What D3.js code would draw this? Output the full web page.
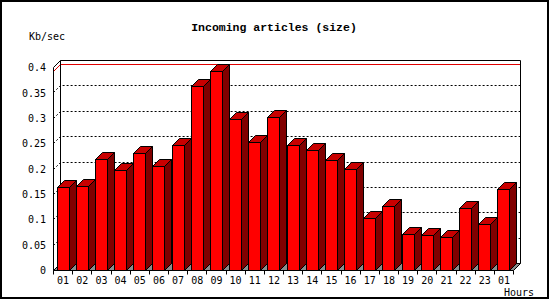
<!DOCTYPE html>
<html>
<head>
<meta charset="utf-8">
<script src="https://cdn.jsdelivr.net/npm/d3@7"></script>
<style>
  body { margin: 0; background: #fff; }
  svg { display: block; }
  text { font-family: "DejaVu Sans Mono", monospace; font-size: 10px; fill: #000; }
</style>
</head>
<body>
<script>
var hours = ['01', '02', '03', '04', '05', '06', '07', '08', '09', '10', '11', '12',
             '13', '14', '15', '16', '17', '18', '19', '20', '21', '22', '23', '01'];
var kbPerSec = [0.163, 0.165, 0.218, 0.198, 0.230, 0.205, 0.246, 0.362, 0.393, 0.297, 0.252, 0.301,
                0.246, 0.236, 0.216, 0.200, 0.102, 0.126, 0.070, 0.068, 0.066, 0.122, 0.090, 0.159];
var yTicks = [0, 0.05, 0.1, 0.15, 0.2, 0.25, 0.3, 0.35, 0.4];

var WIDTH = 550;
var HEIGHT = 300;
var DX = 7;   // depth of the 3d walls and bars
var DY = -7;

var svg = d3.select('body').append('svg')
  .attr('width', WIDTH)
  .attr('height', HEIGHT);

svg.append('rect')
  .attr('x', 1).attr('y', 1)
  .attr('width', 547).attr('height', 297)
  .style('fill', '#fff')
  .style('stroke', '#000')
  .style('stroke-width', 2);

var x = d3.scaleBand()
  .domain(d3.range(hours.length))
  .range([53, 513])
  .paddingInner(0.38)
  .paddingOuter(0.19);

var y = d3.scaleLinear()
  .domain([0, 0.4])
  .range([270, 67]);

var left = x.range()[0], right = x.range()[1];
var step = x.step();
var bw = Math.round(x.bandwidth());
var b = Math.round(y(0)) + 0.5;
var t = Math.round(y(0.4)) + 0.5;

// a line over the left wall and along the back wall
function wallLine(v) {
  var yy = Math.round(y(v)) + 0.5;
  return 'M' + (left + 0.5) + ',' + yy +
    'L' + (left + DX + 0.5) + ',' + (yy + DY) +
    'L' + (right + DX + 0.5) + ',' + (yy + DY);
}

// grid
svg.selectAll('path.grid')
  .data(yTicks.filter(function (d) { return d > 0 && d < 0.4; }))
  .enter().append('path')
    .attr('class', 'grid')
    .attr('d', wallLine)
    .style('fill', 'none')
    .style('stroke', '#000')
    .style('stroke-dasharray', '2,2');

// max line
svg.append('path')
  .attr('d', wallLine(d3.max(kbPerSec)))
  .style('fill', 'none')
  .style('stroke', '#e00000');

// walls frame
svg.append('path')
  .attr('d', wallLine(0.4) +
    'M' + (left + DX + 0.5) + ',' + (t + DY) + 'L' + (left + DX + 0.5) + ',' + (b + DY) +
    'M' + (right + DX + 0.5) + ',' + (t + DY) + 'L' + (right + DX + 0.5) + ',' + (b + DY))
  .style('fill', 'none')
  .style('stroke', '#000');

// floor
svg.append('path')
  .attr('d', 'M' + (left + 0.5) + ',' + b + 'L' + (right + 0.5) + ',' + b +
    'L' + (right + DX + 0.5) + ',' + (b + DY) + 'L' + (left + DX + 0.5) + ',' + (b + DY) + 'Z')
  .style('fill', '#8c8c8c')
  .style('stroke', '#000');

// front axis line
svg.append('path')
  .attr('d', 'M' + (left + 0.5) + ',' + b + 'L' + (left + 0.5) + ',' + t)
  .style('stroke', '#000');

// bars
var bar = svg.selectAll('g.bar')
  .data(kbPerSec)
  .enter().append('g')
    .attr('class', 'bar');

function bx(i) { return Math.round(x(i)) + 0.5; }
function by(d) { return Math.round(y(d)) + 0.5; }

bar.append('path')
  .attr('d', function (d, i) {
    var x0 = bx(i) + bw, yy = by(d);
    return 'M' + x0 + ',' + b + 'L' + x0 + ',' + yy + 'L' + (x0 + DX) + ',' + (yy + DY) +
      'L' + (x0 + DX) + ',' + (b + DY) + 'Z';
  })
  .style('fill', '#800000')
  .style('stroke', '#000');

bar.append('path')
  .attr('d', function (d, i) {
    var x0 = bx(i), x1 = bx(i) + bw, yy = by(d);
    return 'M' + x0 + ',' + yy + 'L' + x1 + ',' + yy + 'L' + (x1 + DX) + ',' + (yy + DY) +
      'L' + (x0 + DX) + ',' + (yy + DY) + 'Z';
  })
  .style('fill', '#c80000')
  .style('stroke', '#000');

bar.append('rect')
  .attr('x', function (d, i) { return bx(i); })
  .attr('y', function (d) { return by(d); })
  .attr('width', bw)
  .attr('height', function (d) { return b - by(d); })
  .style('fill', '#ff0000')
  .style('stroke', '#000');

// x axis: ticks at category borders, labels in the middle
svg.selectAll('line.xtick')
  .data(d3.range(hours.length + 1))
  .enter().append('line')
    .attr('class', 'xtick')
    .attr('x1', function (i) { return Math.round(left + i * step) + 0.5; })
    .attr('x2', function (i) { return Math.round(left + i * step) + 0.5; })
    .attr('y1', b)
    .attr('y2', b + 4)
    .style('stroke', '#000');

var xAxis = svg.append('g')
  .attr('transform', 'translate(0,' + b + ')')
  .call(d3.axisBottom(x)
    .tickSize(0)
    .tickFormat(function (i) { return hours[i]; }));
xAxis.select('.domain').remove();
xAxis.selectAll('text')
  .attr('dy', null)
  .attr('y', 13)
  .attr('x', 0.5)
  .style('font-family', '"DejaVu Sans Mono", monospace')
  .style('font-size', '10px');

var yAxis = svg.append('g')
  .attr('transform', 'translate(46,0)')
  .call(d3.axisLeft(y)
    .tickValues(yTicks)
    .tickSize(0)
    .tickPadding(0)
    .tickFormat(function (d) { return String(d); }));
yAxis.select('.domain').remove();
yAxis.selectAll('text')
  .attr('dy', '0.37em')
  .style('font-family', '"DejaVu Sans Mono", monospace')
  .style('font-size', '10px');

svg.append('text')
  .attr('x', 274)
  .attr('y', 31)
  .attr('text-anchor', 'middle')
  .style('font-family', '"Liberation Mono", monospace')
  .style('font-weight', 'bold')
  .style('font-size', '11.5px')
  .text('Incoming articles (size)');

svg.append('text')
  .attr('x', 29)
  .attr('y', 40)
  .text('Kb/sec');

svg.append('text')
  .attr('x', 504)
  .attr('y', 296)
  .text('Hours');
</script>
</body>
</html>
